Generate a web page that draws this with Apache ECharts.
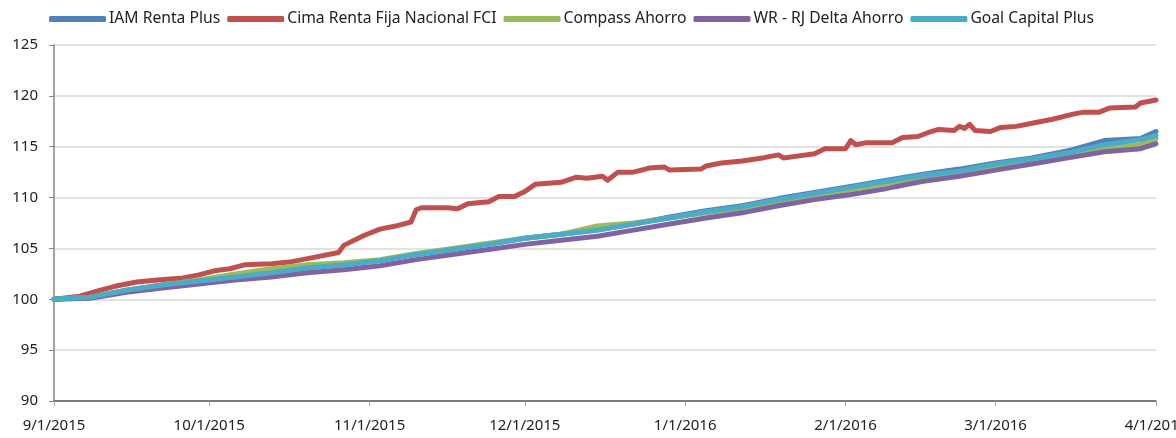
<!DOCTYPE html>
<html>
<head>
<meta charset="utf-8">
<script src="https://cdn.jsdelivr.net/npm/echarts@6/dist/echarts.min.js"></script>
<style>
  html, body { margin: 0; padding: 0; background: #fff; }
  #chart { width: 1176px; height: 438px; }
</style>
</head>
<body>
<div id="chart"></div>
<script>
var seriesNames = ['IAM Renta Plus', 'Cima Renta Fija Nacional FCI', 'Compass Ahorro', 'WR - RJ Delta Ahorro', 'Goal Capital Plus'];
var colors = ['#4F81BD', '#C0504D', '#9BBB59', '#8064A2', '#4BACC6'];

var monthTicks = ['2015-09-01', '2015-10-01', '2015-11-01', '2015-12-01', '2016-01-01', '2016-02-01', '2016-03-01', '2016-04-01'];

// Cima tiene más quiebres, por eso lleva sus propias fechas
var cimaDates = ['2015-09-01', '2015-09-06', '2015-09-10', '2015-09-13', '2015-09-17', '2015-09-21', '2015-09-26', '2015-09-29',
  '2015-10-02', '2015-10-05', '2015-10-08', '2015-10-13', '2015-10-17', '2015-10-21', '2015-10-26', '2015-10-27', '2015-10-31',
  '2015-11-03', '2015-11-06', '2015-11-09', '2015-11-10', '2015-11-11', '2015-11-16', '2015-11-18', '2015-11-20', '2015-11-24',
  '2015-11-26', '2015-11-29', '2015-12-01', '2015-12-03', '2015-12-08', '2015-12-11', '2015-12-13', '2015-12-16', '2015-12-17',
  '2015-12-19', '2015-12-22', '2015-12-25', '2015-12-28', '2015-12-29', '2016-01-04', '2016-01-05', '2016-01-08', '2016-01-12',
  '2016-01-16', '2016-01-19', '2016-01-20', '2016-01-23', '2016-01-26', '2016-01-28', '2016-02-01', '2016-02-02', '2016-02-03',
  '2016-02-05', '2016-02-10', '2016-02-12', '2016-02-15', '2016-02-17', '2016-02-19', '2016-02-22', '2016-02-23', '2016-02-24',
  '2016-02-25', '2016-02-26', '2016-02-29', '2016-03-02', '2016-03-05', '2016-03-09', '2016-03-12', '2016-03-16', '2016-03-18',
  '2016-03-21', '2016-03-23', '2016-03-28', '2016-03-29', '2016-04-01'];
var cimaValues = [100.0, 100.3, 100.9, 101.3, 101.7, 101.9, 102.1, 102.4,
  102.8, 103.0, 103.4, 103.5, 103.7, 104.1, 104.6, 105.3, 106.3,
  106.9, 107.2, 107.6, 108.8, 109.0, 109.0, 108.9, 109.4, 109.6,
  110.1, 110.1, 110.6, 111.3, 111.5, 112.0, 111.9, 112.1, 111.7,
  112.5, 112.5, 112.9, 113.0, 112.7, 112.8, 113.1, 113.4, 113.6,
  113.9, 114.2, 113.9, 114.1, 114.3, 114.8, 114.8, 115.6, 115.2,
  115.4, 115.4, 115.9, 116.0, 116.4, 116.7, 116.6, 117.0, 116.8,
  117.2, 116.6, 116.5, 116.9, 117.0, 117.4, 117.7, 118.2, 118.4,
  118.4, 118.8, 118.9, 119.3, 119.6];

// resto de los fondos: semanal
var weekDates = ['2015-09-01', '2015-09-08', '2015-09-15', '2015-09-22', '2015-09-29', '2015-10-06', '2015-10-13', '2015-10-20',
  '2015-10-27', '2015-11-03', '2015-11-10', '2015-11-17', '2015-11-24', '2015-12-01', '2015-12-08', '2015-12-15', '2015-12-22',
  '2015-12-29', '2016-01-05', '2016-01-12', '2016-01-19', '2016-01-26', '2016-02-02', '2016-02-09', '2016-02-16', '2016-02-23',
  '2016-03-01', '2016-03-08', '2016-03-15', '2016-03-22', '2016-03-29', '2016-04-01'];
var iamValues = [100.0, 100.2, 100.9, 101.4, 101.8, 102.2, 102.6, 103.1, 103.4, 103.8, 104.4, 104.9, 105.4, 106.0, 106.4, 106.8,
  107.4, 108.1, 108.7, 109.2, 109.9, 110.5, 111.1, 111.7, 112.3, 112.8, 113.4, 113.9, 114.6, 115.6, 115.8, 116.5];
var compassValues = [100.0, 100.2, 100.9, 101.4, 101.9, 102.5, 103.0, 103.4, 103.6, 103.9, 104.5, 105.0, 105.5, 106.0, 106.4, 107.2,
  107.5, 108.0, 108.5, 108.9, 109.5, 110.1, 110.8, 111.4, 111.9, 112.3, 113.0, 113.5, 114.1, 114.8, 115.2, 115.8];
var wrValues = [100.0, 100.1, 100.7, 101.1, 101.5, 101.9, 102.2, 102.6, 102.9, 103.3, 103.9, 104.4, 104.9, 105.4, 105.8, 106.2,
  106.8, 107.4, 108.0, 108.5, 109.2, 109.8, 110.3, 110.9, 111.6, 112.1, 112.7, 113.3, 113.9, 114.5, 114.8, 115.3];
var goalValues = [100.0, 100.2, 100.9, 101.4, 101.8, 102.2, 102.6, 103.1, 103.4, 103.8, 104.4, 104.9, 105.4, 106.0, 106.4, 106.8,
  107.4, 108.0, 108.6, 109.1, 109.8, 110.4, 111.0, 111.6, 112.2, 112.6, 113.3, 113.8, 114.4, 115.2, 115.7, 116.1];

function toTime(s) {
  var p = s.split('-');
  return new Date(+p[0], +p[1] - 1, +p[2]).getTime();
}
function pairs(dates, values) {
  return dates.map(function (d, i) { return [toTime(d), values[i]]; });
}

var chart = echarts.init(document.getElementById('chart'));
var font = 'Noto Sans';
var tickTimes = monthTicks.map(toTime);

function lineSeries(i, data) {
  return {
    name: seriesNames[i],
    type: 'line',
    data: data,
    showSymbol: false,
    symbol: 'none',
    animation: false,
    lineStyle: { width: 5, color: colors[i], cap: 'round', join: 'round' },
    itemStyle: { color: colors[i] }
  };
}

chart.setOption({
  animation: false,
  color: colors,
  legend: {
    top: 6,
    left: 44,
    itemWidth: 57,
    itemHeight: 6,
    itemGap: 7,
    icon: 'roundRect',
    textStyle: { fontFamily: font, fontSize: 15.7, color: '#222', padding: [0, 0, 0, -2] },
    data: seriesNames
  },
  grid: { left: 54, right: 20, top: 45, bottom: 37, outerBoundsMode: 'none' },
  xAxis: {
    type: 'value',
    min: tickTimes[0],
    max: tickTimes[tickTimes.length - 1],
    axisLine: { lineStyle: { color: '#595959', width: 1.5 } },
    axisTick: { show: true, length: 5, lineStyle: { color: '#a6a6a6' }, customValues: tickTimes },
    splitLine: { show: false },
    axisLabel: {
      customValues: tickTimes,
      margin: 17,
      fontFamily: font,
      fontSize: 15,
      color: '#222',
      showMinLabel: true,
      showMaxLabel: true,
      hideOverlap: false,
      formatter: function (val) {
        var d = new Date(val);
        return (d.getMonth() + 1) + '/' + d.getDate() + '/' + d.getFullYear();
      }
    }
  },
  yAxis: {
    type: 'value',
    min: 90,
    max: 125,
    interval: 5,
    axisLine: { show: true, lineStyle: { color: '#868686', width: 1.5 } },
    axisTick: { show: true, length: 5, lineStyle: { color: '#868686' } },
    splitLine: { lineStyle: { color: '#d9d9d9', width: 1.5 } },
    axisLabel: { margin: 16, fontFamily: font, fontSize: 15, color: '#222' }
  },
  series: [
    lineSeries(0, pairs(weekDates, iamValues)),
    lineSeries(1, pairs(cimaDates, cimaValues)),
    lineSeries(2, pairs(weekDates, compassValues)),
    lineSeries(3, pairs(weekDates, wrValues)),
    lineSeries(4, pairs(weekDates, goalValues))
  ]
});
</script>
</body>
</html>
